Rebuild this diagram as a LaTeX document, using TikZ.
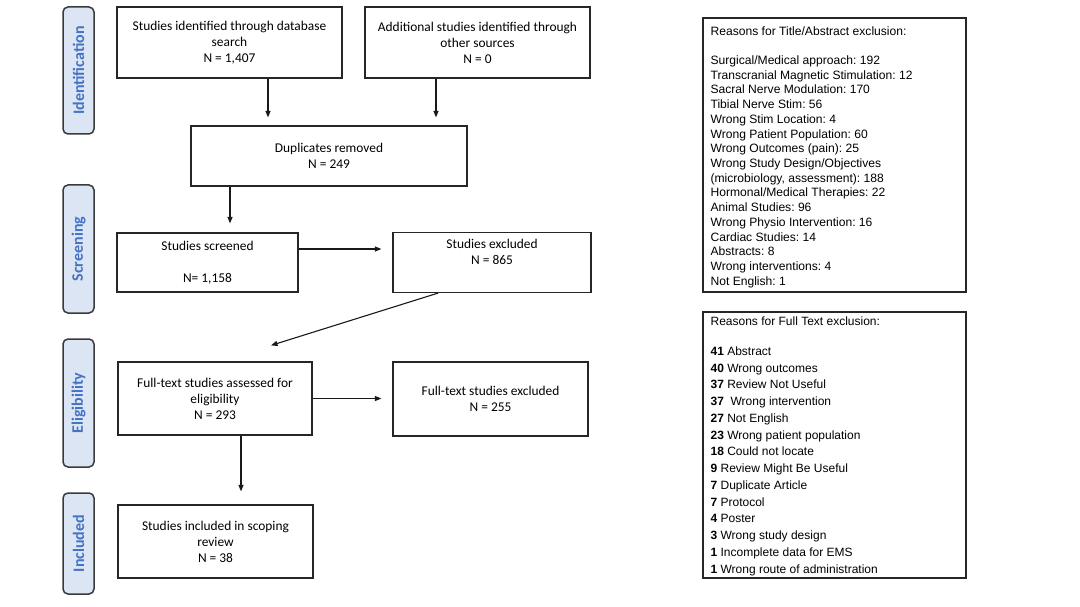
\documentclass[tikz,border=0pt]{standalone}
\usepackage{fontspec}
\setmainfont{Carlito}
\newfontfamily\arialf{Liberation Sans}
\usetikzlibrary{arrows.meta,calc}
\definecolor{phasefill}{HTML}{DCE5F3}
\definecolor{phasetext}{HTML}{4472C4}
\definecolor{phaseline}{HTML}{3A3A3A}
\frenchspacing
\begin{document}
\begin{tikzpicture}[x=1pt,y=-1pt,
  box/.style={draw=black!85, line width=1.2pt, inner sep=0pt, align=center,
    font=\fontsize{13.4}{16}\selectfont},
  phase/.style={draw=phaseline, fill=phasefill, rounded corners=5pt, line width=1.5pt,
    inner sep=0pt, rotate=90, minimum height=31pt, text=phasetext,
    font=\fontsize{16}{18}\selectfont\bfseries},
  listbox/.style={draw=black!85, line width=1.2pt, inner sep=0pt},
  listtext/.style={anchor=north west, align=left, inner sep=0pt},
  arr/.style={-{Triangle[length=6.5pt,width=5pt]}, line width=1.1pt, black!90}]
\useasboundingbox (0,0) rectangle (1080,607);
% phase labels
\node[phase, minimum width=127pt] (pid) at (78.5,70.5) {Identification};
\node[phase, minimum width=128pt] (psc) at (78.5,249) {Screening};
\node[phase, minimum width=128pt] (pel) at (78.5,403) {Eligibility};
\node[phase, minimum width=101pt] (pin) at (78.5,543.5) {Included};
% boxes
\node[box, minimum width=225pt, minimum height=71pt] (b1) at (229.5,42.5)
  {Studies identified through database\\search\\N = 1,407};
\node[box, minimum width=225pt, minimum height=71pt] (b2) at (477.5,42.5)
  {Additional studies identified through\\other sources\\N = 0};
\node[box, minimum width=276pt, minimum height=60pt] (dup) at (329,156)
  {Duplicates removed\\N = 249};
\node[box, minimum width=181pt, minimum height=59pt] (scr) at (207.5,262.5)
  {Studies screened\\[16pt]N= 1,158};
\node[box, minimum width=198pt, minimum height=60pt] (exc) at (492,262.5)
  {Studies excluded\\N = 865\\\strut};
\node[box, minimum width=194pt, minimum height=73pt] (ft) at (215,398.5)
  {Full-text studies assessed for\\eligibility\\N = 293};
\node[box, minimum width=195pt, minimum height=74pt] (fte) at (490.5,399)
  {Full-text studies excluded\\N = 255};
\node[box, minimum width=195pt, minimum height=73pt] (inc) at (215.5,541.5)
  {Studies included in scoping\\review\\N = 38};
% reason boxes
\node[listbox, minimum width=263pt, minimum height=274pt] (r1) at (834.5,155) {};
\node[listbox, minimum width=263pt, minimum height=266pt] (r2) at (834.5,445) {};
\node[listtext, font=\arialf\fontsize{12.1}{14.73}\selectfont] (r1t) at ($(r1.north west)+(8,9)$)
  {Reasons for Title/Abstract exclusion:\\[14.3pt]
   Surgical/Medical approach: 192\\
   Transcranial Magnetic Stimulation: 12\\
   Sacral Nerve Modulation: 170\\
   Tibial Nerve Stim: 56\\
   Wrong Stim Location: 4\\
   Wrong Patient Population: 60\\
   Wrong Outcomes (pain): 25\\
   Wrong Study Design/Objectives\\
   (microbiology, assessment): 188\\
   Hormonal/Medical Therapies: 22\\
   Animal Studies: 96\\
   Wrong Physio Intervention: 16\\
   Cardiac Studies: 14\\
   Abstracts: 8\\
   Wrong interventions: 4\\
   Not English: 1};
\node[listtext, font=\arialf\fontsize{12}{16.77}\selectfont] (r2t) at ($(r2.north west)+(8,5)$)
  {Reasons for Full Text exclusion:\\[13.2pt]
   \textbf{41} Abstract\\
   \textbf{40} Wrong outcomes\\
   \textbf{37} Review Not Useful\\
   \textbf{37}\ \ Wrong intervention\\
   \textbf{27} Not English\\
   \textbf{23} Wrong patient population\\
   \textbf{18} Could not locate\\
   \textbf{9} Review Might Be Useful\\
   \textbf{7} Duplicate Article\\
   \textbf{7} Protocol\\
   \textbf{4} Poster\\
   \textbf{3} Wrong study design\\
   \textbf{1} Incomplete data for EMS\\
   \textbf{1} Wrong route of administration};
% connectors
\draw[arr, shorten >=8pt] ([xshift=38.5pt]b1.south) -- ([xshift=38.5pt]b1.south |- dup.north);
\draw[arr, shorten >=8pt] ([xshift=-41.5pt]b2.south) -- ([xshift=-41.5pt]b2.south |- dup.north);
\draw[arr, shorten >=9pt] ([xshift=-99pt]dup.south) -- ([xshift=-99pt]dup.south |- scr.north);
\draw[arr, shorten >=11pt] ([yshift=13.5pt]scr.east) -- ([yshift=13.5pt]scr.east -| exc.west);
\coordinate (d5) at ([xshift=56pt,yshift=16pt]ft.north);
\draw[arr] ([xshift=-54pt]exc.south) -- (d5);
\draw[arr, shorten >=11pt] (ft.east) -- (ft.east -| fte.west);
\draw[arr, shorten >=13pt] ([xshift=26pt]ft.south) -- ([xshift=26pt]ft.south |- inc.north);
\end{tikzpicture}
\end{document}
